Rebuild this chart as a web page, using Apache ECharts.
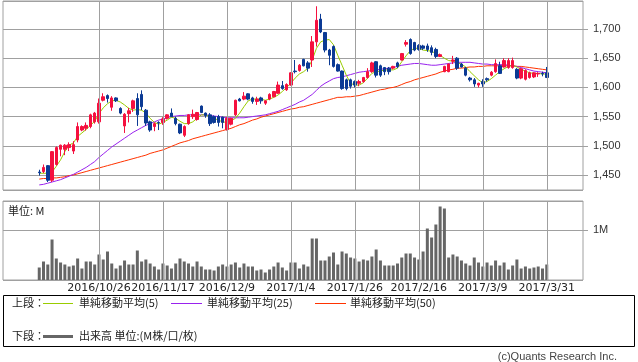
<!DOCTYPE html>
<html><head><meta charset="utf-8">
<script src="https://cdn.jsdelivr.net/npm/echarts@6.0.0/dist/echarts.min.js"></script>
<style>html,body{margin:0;padding:0;background:#fff}#c{width:638px;height:362px}</style>
</head><body><div id="c"></div>
<script>
// ---- data ----
const dates = [
'2016/10/5','2016/10/6','2016/10/7','2016/10/11','2016/10/12','2016/10/13','2016/10/14','2016/10/17','2016/10/18','2016/10/19','2016/10/20','2016/10/21','2016/10/24','2016/10/25','2016/10/26','2016/10/27','2016/10/28','2016/10/31',
'2016/11/1','2016/11/2','2016/11/4','2016/11/7','2016/11/8','2016/11/9','2016/11/10','2016/11/11','2016/11/14','2016/11/15','2016/11/16','2016/11/17','2016/11/18','2016/11/21','2016/11/22','2016/11/24','2016/11/25','2016/11/28','2016/11/29','2016/11/30',
'2016/12/1','2016/12/2','2016/12/5','2016/12/6','2016/12/7','2016/12/8','2016/12/9','2016/12/12','2016/12/13','2016/12/14','2016/12/15','2016/12/16','2016/12/19','2016/12/20','2016/12/21','2016/12/22','2016/12/26','2016/12/27','2016/12/28','2016/12/29','2016/12/30',
'2017/1/4','2017/1/5','2017/1/6','2017/1/10','2017/1/11','2017/1/12','2017/1/13','2017/1/16','2017/1/17','2017/1/18','2017/1/19','2017/1/20','2017/1/23','2017/1/24','2017/1/25','2017/1/26','2017/1/27','2017/1/30','2017/1/31',
'2017/2/1','2017/2/2','2017/2/3','2017/2/6','2017/2/7','2017/2/8','2017/2/9','2017/2/10','2017/2/13','2017/2/14','2017/2/15','2017/2/16','2017/2/17','2017/2/20','2017/2/21','2017/2/22','2017/2/23','2017/2/24','2017/2/27','2017/2/28',
'2017/3/1','2017/3/2','2017/3/3','2017/3/6','2017/3/7','2017/3/8','2017/3/9','2017/3/10','2017/3/13','2017/3/14','2017/3/15','2017/3/16','2017/3/17','2017/3/21','2017/3/22','2017/3/23','2017/3/24','2017/3/27','2017/3/28','2017/3/29','2017/3/30','2017/3/31'
];
const tickDates = ['2016/10/26','2016/11/17','2016/12/9','2017/1/4','2017/1/26','2017/2/16','2017/3/9','2017/3/31'];
const priceTicks = [1450,1500,1550,1600,1650,1700];

const opens = [
1455,1456,1466,1441,1468,1494,1494,1497,1491,1510,
1527,1530,1533,1541,1541,1578,1586,1566,1582,1564,
1534,1555,1564,1581,1588,1561,1541,1533,1540,1540,
1547,1556,1547,1537,1518,1538,1550,1545,1568,1556,
1553,1550,1550,1549,1528,1537,1553,1580,1580,1589,
1582,1576,1582,1573,1580,1584,1590,1603,1596,1604,
1628,1629,1648,1642,1647,1678,1717,1694,1664,1670,
1639,1628,1613,1613,1610,1607,1610,1617,1627,1644,
1637,1634,1633,1633,1642,1647,1674,1682,1677,1672,
1671,1671,1668,1665,1653,1627,1627,1645,1650,1640,
1633,1616,1613,1604,1610,1615,1621,1627,1637,1635,
1634,1634,1631,1616,1614,1617,1618,1623,1624,1625];
const closes = [
1454,1463,1441,1490,1497,1501,1501,1502,1502,1533,
1533,1535,1553,1556,1573,1584,1581,1582,1577,1556,
1554,1560,1577,1553,1567,1539,1527,1538,1539,1546,
1553,1550,1538,1522,1533,1553,1554,1557,1557,1552,
1538,1540,1540,1540,1547,1547,1578,1577,1585,1580,
1576,1580,1577,1577,1588,1593,1604,1598,1605,1625,
1627,1638,1637,1633,1678,1715,1695,1664,1655,1636,
1628,1598,1598,1602,1604,1610,1617,1627,1642,1621,
1621,1627,1627,1636,1636,1658,1677,1658,1664,1665,
1667,1665,1660,1653,1656,1636,1640,1647,1633,1635,
1621,1613,1606,1607,1606,1613,1626,1641,1624,1646,
1646,1646,1616,1632,1629,1625,1625,1624,1623,1617];
const lows = [
1449,1453,1438,1438,1466,1482,1484,1491,1486,1506,
1525,1526,1530,1538,1538,1576,1574,1560,1575,1554,
1522,1540,1558,1534,1561,1534,1524,1525,1527,1536,
1545,1549,1535,1520,1515,1536,1546,1543,1556,1548,
1534,1538,1533,1530,1526,1535,1551,1576,1578,1578,
1572,1570,1572,1570,1578,1583,1589,1596,1594,1603,
1624,1627,1636,1627,1635,1670,1693,1660,1638,1634,
1627,1596,1595,1598,1600,1602,1608,1615,1625,1617,
1618,1621,1622,1631,1633,1646,1670,1656,1662,1663,
1664,1661,1655,1650,1652,1626,1626,1640,1630,1634,
1619,1610,1601,1600,1601,1610,1619,1625,1623,1634,
1632,1632,1614,1614,1612,1615,1616,1618,1619,1616];
const highs = [
1459,1468,1467,1491,1499,1502,1503,1506,1508,1540,
1535,1540,1555,1558,1581,1590,1588,1585,1583,1566,
1556,1565,1579,1590,1595,1563,1543,1540,1542,1549,
1554,1564,1550,1538,1535,1554,1562,1558,1569,1557,
1556,1552,1553,1550,1549,1548,1579,1582,1592,1590,
1584,1584,1584,1578,1590,1594,1610,1611,1607,1626,
1647,1640,1649,1645,1688,1739,1726,1695,1666,1672,
1641,1629,1615,1615,1612,1613,1618,1633,1644,1645,
1639,1635,1635,1637,1644,1659,1681,1684,1678,1674,
1673,1675,1672,1668,1658,1637,1641,1654,1652,1642,
1635,1618,1616,1608,1614,1617,1628,1648,1644,1650,
1650,1651,1633,1633,1631,1627,1626,1626,1627,1635];

const ma5 = [
1453,1453,1453,1455,1465,1476,1490,1501,1505,1516,
1522,1528,1535,1542,1555,1565,1572,1577,1578,1575,
1570,1564,1561,1562,1561,1556,1547,1540,1537,1540,
1544,1549,1547,1542,1538,1538,1541,1547,1553,1553,
1550,1547,1544,1541,1540,1543,1547,1556,1567,1577,
1580,1580,1580,1578,1580,1583,1587,1593,1600,1607,
1616,1623,1627,1633,1647,1667,1678,1681,1682,1673,
1655,1638,1621,1607,1604,1604,1608,1616,1624,1627,
1628,1630,1630,1630,1633,1644,1654,1663,1667,1667,
1664,1663,1662,1658,1655,1650,1646,1645,1642,1640,
1635,1627,1620,1613,1608,1610,1615,1621,1627,1632,
1636,1638,1635,1631,1628,1625,1624,1624,1623,1623];
const ma25 = [
1433,1434,1436,1438,1440,1442,1445,1448,1451,1455,
1459,1463,1468,1473,1480,1486,1492,1498,1503,1508,
1513,1518,1523,1527,1531,1535,1538,1541,1544,1546,
1548,1550,1551,1552,1552,1553,1553,1553,1553,1553,
1552,1551,1550,1549,1548,1548,1548,1548,1548,1549,
1550,1551,1552,1553,1555,1557,1559,1562,1565,1568,
1571,1575,1578,1583,1588,1595,1602,1607,1611,1615,
1617,1618,1620,1622,1624,1626,1627,1628,1629,1630,
1631,1632,1633,1634,1636,1638,1639,1640,1641,1641,
1640,1639,1638,1638,1639,1640,1641,1642,1643,1643,
1643,1643,1642,1641,1640,1640,1639,1639,1639,1639,
1638,1637,1636,1634,1632,1630,1628,1627,1626,1625];
const ma50 = [
1443,1444,1444,1445,1445,1446,1447,1449,1450,1452,
1454,1456,1458,1460,1462,1464,1466,1468,1470,1472,
1474,1476,1478,1480,1482,1484,1487,1489,1491,1493,
1496,1499,1502,1505,1507,1509,1512,1514,1516,1518,
1520,1522,1524,1526,1528,1530,1533,1536,1538,1541,
1544,1546,1549,1551,1553,1555,1557,1559,1561,1563,
1564,1566,1567,1569,1571,1573,1575,1577,1579,1581,
1583,1583,1584,1584,1585,1586,1588,1590,1592,1594,
1596,1597,1599,1600,1602,1605,1608,1610,1613,1615,
1617,1619,1621,1623,1626,1628,1630,1631,1633,1633,
1634,1635,1635,1636,1636,1637,1637,1637,1637,1637,
1637,1637,1636,1636,1635,1634,1633,1632,1631,1630];
const volumes = [
0.25,0.37,0.31,0.81,0.43,0.35,0.31,0.27,0.29,0.43,
0.23,0.37,0.37,0.31,0.51,0.41,0.57,0.33,0.23,0.29,
0.39,0.31,0.31,0.59,0.37,0.41,0.33,0.27,0.21,0.33,
0.29,0.23,0.33,0.43,0.37,0.33,0.27,0.37,0.27,0.21,
0.21,0.19,0.27,0.31,0.27,0.31,0.35,0.25,0.33,0.27,
0.27,0.19,0.21,0.15,0.21,0.27,0.35,0.25,0.19,0.35,
0.35,0.23,0.31,0.27,0.83,0.83,0.39,0.39,0.47,0.55,
0.31,0.57,0.53,0.45,0.43,0.37,0.41,0.39,0.47,0.61,
0.39,0.29,0.29,0.29,0.33,0.45,0.53,0.53,0.45,0.41,
0.57,1.03,0.85,1.11,1.47,1.43,0.45,0.51,0.47,0.39,
0.33,0.29,0.45,0.35,0.27,0.35,0.29,0.39,0.29,0.35,
0.21,0.29,0.41,0.23,0.27,0.23,0.25,0.27,0.23,0.31];

// ---- build ----
const PAD = 8;
const padCats = p => Array.from({length: PAD}, (_, k) => p + k);
const cats = [...padCats('pre'), ...dates, ...padCats('post')];
const blank = () => Array.from({length: PAD}, () => '-');
const wrap = arr => [...blank(), ...arr, ...blank()];
const candleData = [
  ...Array.from({length: PAD}, () => ['-','-','-','-']),
  ...dates.map((d, j) => [opens[j], closes[j], lows[j], highs[j]]),
  ...Array.from({length: PAD}, () => ['-','-','-','-'])
];

const UP = '#f5103f', DOWN = '#0b3a94';
const C5 = '#99cc00', C25 = '#9922ee', C50 = '#ff3300';
const GRID = '#a0a0a0';
const JP = "'Noto Sans CJK JP', sans-serif";

const gridMark = (xi) => ({
  type: 'line', xAxisIndex: xi, yAxisIndex: xi, data: cats.map(() => '-'), z: 1,
  silent: true, symbol: 'none',
  markLine: {
    silent: true, symbol: ['none', 'none'], label: {show: false},
    lineStyle: {color: GRID, width: 1, type: 'solid'},
    emphasis: {disabled: true},
    data: tickDates.map(d => ({xAxis: d}))
  }
});

const maLine = (data, color) => ({
  type: 'line', xAxisIndex: 0, yAxisIndex: 0, data: wrap(data), symbol: 'none',
  lineStyle: {color, width: 1}, itemStyle: {color}, z: 3, silent: true
});

const chart = echarts.init(document.getElementById('c'), null, {renderer: 'canvas'});
chart.setOption({
  animation: false,
  backgroundColor: '#fff',
  grid: [
    {left: 3, top: 1, width: 580, height: 189, show: true, borderColor: GRID, borderWidth: 1, containLabel: false},
    {left: 3, top: 201, width: 580, height: 79, show: true, borderColor: GRID, borderWidth: 1, containLabel: false}
  ],
  xAxis: [
    {type: 'category', gridIndex: 0, data: cats, boundaryGap: true,
     axisLine: {show: false}, axisTick: {show: false}, axisLabel: {show: false}, splitLine: {show: false}},
    {type: 'category', gridIndex: 1, data: cats, boundaryGap: true,
     axisLine: {show: false}, axisTick: {show: false}, splitLine: {show: false},
     axisLabel: {interval: (i, v) => tickDates.includes(v), margin: 3, fontSize: 11,
       fontFamily: 'DejaVu Sans', color: '#222'}}
  ],
  yAxis: [
    {type: 'value', gridIndex: 0, position: 'right', min: 1424.3, max: 1748, splitNumber: 6, scale: true,
     axisLine: {show: false}, axisTick: {show: true, length: 5, lineStyle: {color: GRID}},
     axisLabel: {margin: 10, fontSize: 11, fontFamily: 'Liberation Sans', color: '#333', showMinLabel: false, showMaxLabel: false,
       formatter: v => priceTicks.includes(Math.round(v)) && Math.abs(v - Math.round(v)) < 1e-6 ? Math.round(v).toLocaleString('en-US') : ''},
     splitLine: {show: true, lineStyle: {color: GRID, width: 1}}},
    {type: 'value', gridIndex: 1, position: 'right', min: 0, max: 1.58, interval: 1,
     axisLine: {show: false}, axisTick: {show: true, length: 5, lineStyle: {color: GRID}},
     axisLabel: {margin: 10, fontSize: 11, fontFamily: 'Liberation Sans', color: '#333', showMinLabel: false, showMaxLabel: false,
       formatter: v => v === 1 ? '1M' : ''},
     splitLine: {show: true, lineStyle: {color: GRID, width: 1}}}
  ],
  series: [
    gridMark(0),
    gridMark(1),
    {type: 'candlestick', xAxisIndex: 0, yAxisIndex: 0, data: candleData, barWidth: 3, z: 4, silent: true,
     itemStyle: {color: UP, color0: DOWN, borderColor: UP, borderColor0: DOWN, borderWidth: 1}},
    maLine(ma50, C50),
    maLine(ma25, C25),
    maLine(ma5, C5),
    {type: 'bar', xAxisIndex: 1, yAxisIndex: 1, data: wrap(volumes), barWidth: 3, z: 3, silent: true,
     itemStyle: {color: '#666666'}}
  ],
  graphic: [
    {type: 'text', left: 8, top: 205, silent: true,
     style: {text: '単位: M', font: '11px ' + JP, fill: '#222'}},
    {type: 'rect', silent: true, shape: {x: 3.5, y: 295.5, width: 631, height: 51},
     style: {fill: 'none', stroke: '#000', lineWidth: 1}},
    {type: 'text', x: 12, y: 303, silent: true, style: {text: '上段：', font: '11px ' + JP, fill: '#222', textVerticalAlign: 'middle'}},
    {type: 'line', silent: true, shape: {x1: 43, y1: 303.5, x2: 73, y2: 303.5}, style: {stroke: C5, lineWidth: 1}},
    {type: 'text', x: 79, y: 303, silent: true, style: {text: '単純移動平均(5)', font: '11px ' + JP, fill: '#222', textVerticalAlign: 'middle'}},
    {type: 'line', silent: true, shape: {x1: 171, y1: 303.5, x2: 202, y2: 303.5}, style: {stroke: C25, lineWidth: 1}},
    {type: 'text', x: 207, y: 303, silent: true, style: {text: '単純移動平均(25)', font: '11px ' + JP, fill: '#222', textVerticalAlign: 'middle'}},
    {type: 'line', silent: true, shape: {x1: 315, y1: 303.5, x2: 346, y2: 303.5}, style: {stroke: C50, lineWidth: 1}},
    {type: 'text', x: 350, y: 303, silent: true, style: {text: '単純移動平均(50)', font: '11px ' + JP, fill: '#222', textVerticalAlign: 'middle'}},
    {type: 'text', x: 12, y: 336, silent: true, style: {text: '下段：', font: '11px ' + JP, fill: '#222', textVerticalAlign: 'middle'}},
    {type: 'line', silent: true, shape: {x1: 43, y1: 336.5, x2: 73, y2: 336.5}, style: {stroke: '#666', lineWidth: 3}},
    {type: 'text', x: 79, y: 336, silent: true, style: {text: '出来高 単位:(M株/口/枚)', font: '11px ' + JP, fill: '#222', textVerticalAlign: 'middle'}},
    {type: 'text', x: 617, y: 357, silent: true, style: {text: '(c)Quants Research Inc.', font: '11px Liberation Sans', fill: '#444', textAlign: 'right', textVerticalAlign: 'middle'}}
  ]
});
</script>
</body></html>
